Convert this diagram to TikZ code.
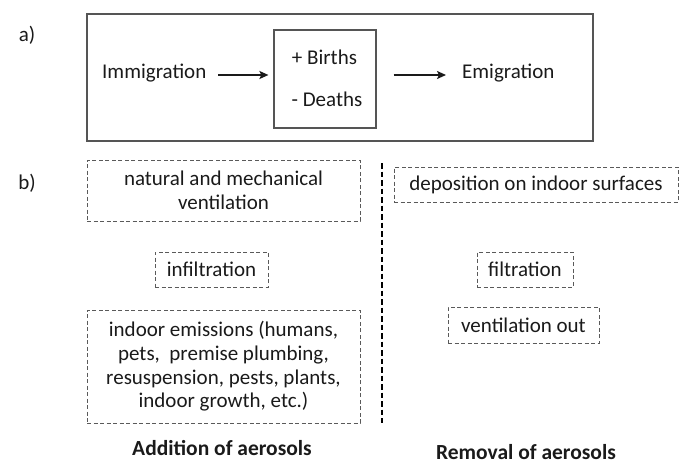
\documentclass[tikz,border=0pt]{standalone}
\usepackage{fontspec}
\setmainfont{Carlito}
\usetikzlibrary{arrows.meta}
\definecolor{txt}{HTML}{1A1A1A}
\definecolor{frm}{HTML}{555555}
\definecolor{dsh}{HTML}{5A5A5A}
\tikzset{
  lbl/.style={text=txt, inner sep=0pt, font=\fontsize{21}{23.5}\selectfont},
  solidbox/.style={draw=frm, line width=1.2pt, inner sep=0pt},
  dbox/.style={draw=dsh, line width=0.9pt, dash pattern=on 4pt off 2.5pt, inner sep=0pt, align=center, text=txt, font=\fontsize{21}{23.7}\selectfont},
  flow/.style={line width=1.6pt, draw=txt, -{Stealth[length=9pt,width=8pt,inset=2pt]}},
  sep/.style={line width=1.7pt, draw=black, dash pattern=on 5.5pt off 3pt},
  head/.style={text=txt, inner sep=0pt, anchor=base, font=\fontsize{21.5}{23}\selectfont\bfseries}
}
\begin{document}
\begin{tikzpicture}[x=1pt,y=-1pt]
\useasboundingbox (0,0) rectangle (686,463);
% panel a
\node[lbl] (la) at (27,35) {a)};
\node[solidbox, minimum width=506pt, minimum height=127pt] (frame) at (340,77.5) {};
\node[solidbox, minimum width=102pt, minimum height=98pt] (mid) at (325,79) {};
\node[lbl] (births) at (324.5,57) {+ Births};
\node[lbl] (deaths) at (327,99) {- Deaths};
\node[lbl, anchor=west] (immig) at (102,73) {Immigration};
\node[lbl, anchor=west] (emig) at (462,73) {Emigration};
\coordinate (a1s) at (218,75);
\draw[flow, shorten >=5pt] (a1s) -- (mid.west |- a1s);
\coordinate (a2e) at (446,75);
\draw[flow, shorten <=17pt] (mid.east |- a2e) -- (a2e);
% panel b
\node[lbl] (lb) at (27,183) {b)};
\node[dbox, minimum width=273pt, minimum height=61pt] (vent) at (223.5,190.5) {natural and mechanical\\ventilation};
\node[dbox, minimum width=113pt, minimum height=35pt] (infil) at (211.5,269.5) {infiltration};
\node[dbox, minimum width=273pt, minimum height=113pt] (emis) at (223.5,366.5) {indoor emissions (humans,\\pets,\ \ premise plumbing,\\resuspension, pests, plants,\\indoor growth, etc.)};
\node[head] (add) at (222,455) {Addition of aerosols};
\coordinate (st) at (382,163);
\coordinate (sb) at (382,423);
\draw[sep] (st) -- (sb);
\node[dbox, minimum width=284pt, minimum height=35pt] (depo) at (536,184.5) {deposition on indoor surfaces};
\node[dbox, minimum width=96pt, minimum height=35pt] (filt) at (525,269.5) {filtration};
\node[dbox, minimum width=151pt, minimum height=36pt] (vout) at (523.5,325) {ventilation out};
\node[head] (rem) at (526,459) {Removal of aerosols};
\end{tikzpicture}
\end{document}
